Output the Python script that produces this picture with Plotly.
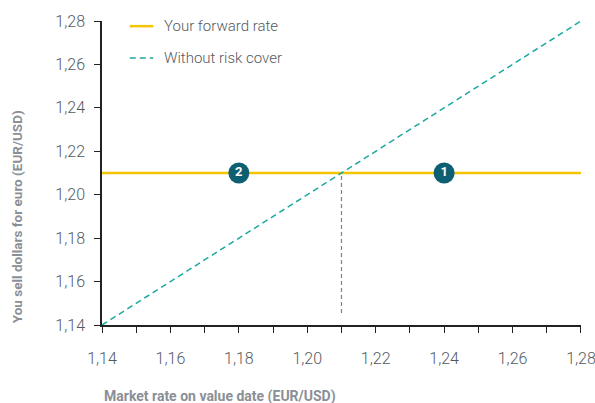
import plotly.graph_objects as go

market_rate = [1.14, 1.28]
forward_rate = 1.21
without_cover = [1.14, 1.28]
marker_x = [1.24, 1.18]
marker_labels = ["1", "2"]
tick_vals = [1.14, 1.16, 1.18, 1.20, 1.22, 1.24, 1.26, 1.28]
legend_names = ["Your forward rate", "Without risk cover"]
x_title = "Market rate on value date (EUR/USD)"
y_title = "You sell dollars for euro (EUR/USD)"

FONT = "Roboto, sans-serif"
YELLOW = "#f5c400"
TEAL = "#1aa9a0"
DARK = "#0f5f73"
GREY = "#8a8f96"
TXT = "#555a5f"

fig = go.Figure()
fig.add_trace(go.Scatter(x=market_rate, y=[forward_rate, forward_rate], mode="lines",
                         line=dict(color=YELLOW, width=2.5), name=legend_names[0], showlegend=False))
fig.add_trace(go.Scatter(x=market_rate, y=without_cover, mode="lines",
                         line=dict(color=TEAL, width=1.5, dash="6px,4px"), name=legend_names[1], showlegend=False))
fig.add_trace(go.Scatter(x=[forward_rate, forward_rate], y=[market_rate[0] + 0.0055, forward_rate], mode="lines",
                         line=dict(color="#7d8288", width=1.2, dash="4px,3px"), showlegend=False, hoverinfo="skip"))
fig.add_trace(go.Scatter(x=marker_x, y=[forward_rate] * len(marker_x), mode="markers+text",
                         marker=dict(size=21, color=DARK), text=marker_labels,
                         textposition="middle center",
                         textfont=dict(color="white", size=13, family=FONT, weight="bold"),
                         showlegend=False, hoverinfo="skip"))

axis_common = dict(range=[1.14, 1.28001], tickvals=tick_vals, tickformat=".2f",
                   showgrid=False, zeroline=False, showline=True, linecolor="#222", linewidth=1.5,
                   ticks="outside", ticklen=6, tickcolor="#222", tickwidth=1.2,
                   ticklabeloverflow="allow", automargin=False,
                   tickfont=dict(family=FONT, size=16, color=TXT, weight=300))

fig.update_xaxes(**axis_common, ticklabelstandoff=12,
                 minor=dict(dtick=0.01, tick0=1.14, ticks="outside", ticklen=6, tickcolor="#222", tickwidth=1.2))
fig.update_yaxes(**axis_common, ticklabelstandoff=6)

# custom legend (line samples + labels)
legend_rows = [(0.983, dict(color=YELLOW, width=2.5)), (0.878, dict(color=TEAL, width=1.5, dash="6px,4px"))]
for name, (yy, ln) in zip(legend_names, legend_rows):
    fig.add_shape(type="line", xref="paper", yref="paper", x0=0.058, x1=0.107, y0=yy, y1=yy, line=ln)
    fig.add_annotation(xref="paper", yref="paper", x=0.125, y=yy, text=name, showarrow=False,
                       xanchor="left", yanchor="middle", font=dict(family=FONT, size=15, color=TXT, weight=300))

fig.add_annotation(xref="paper", yref="paper", x=0.0, y=-0.235, text=f"<b>{x_title}</b>", showarrow=False,
                   xanchor="left", yanchor="middle", font=dict(family=FONT, size=14, color=GREY))
fig.add_annotation(xref="paper", yref="paper", x=-0.178, y=0.0, text=f"<b>{y_title}</b>", showarrow=False,
                   textangle=-90, xanchor="center", yanchor="bottom", font=dict(family=FONT, size=13.5, color=GREY))

fig.update_layout(
    width=595, height=403,
    margin=dict(l=102, r=14, t=21, b=78, autoexpand=False),
    plot_bgcolor="white", paper_bgcolor="white",
    separators=", ",
    showlegend=False,
)

fig.write_html("out.html")
